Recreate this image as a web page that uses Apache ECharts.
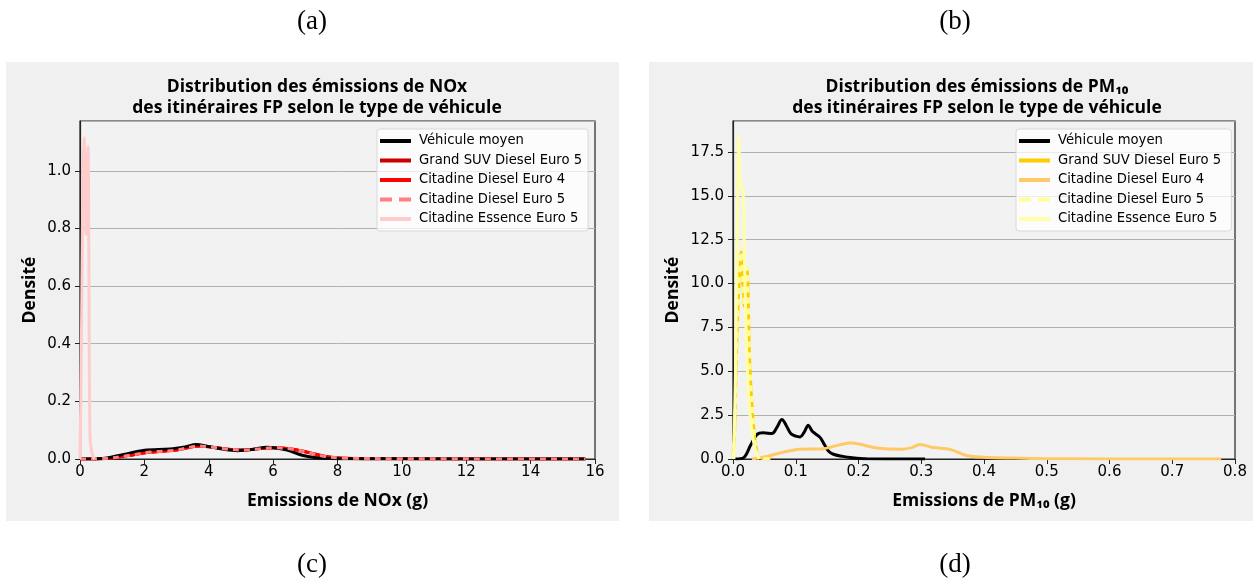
<!DOCTYPE html>
<html>
<head>
<meta charset="utf-8">
<script src="https://cdn.jsdelivr.net/npm/echarts@6/dist/echarts.min.js"></script>
<style>
html,body{margin:0;padding:0;background:#fff;}
#c{width:1259px;height:580px;}
</style>
</head>
<body>
<div id="c"></div>
<script>
// ---------- DATA ----------
const seriesNames = ['Véhicule moyen','Grand SUV Diesel Euro 5','Citadine Diesel Euro 4','Citadine Diesel Euro 5','Citadine Essence Euro 5'];
const panelLabels = ['(a)','(b)','(c)','(d)'];
const noxTicks = [0,2,4,6,8,10,12,14,16];
const pmTicks = [0,0.1,0.2,0.3,0.4,0.5,0.6,0.7,0.8];

// NOx (left) — [x (g), density]
const noxMoyen = [[0,0],[0.7,0.002],[1.35,0.016],[2.0,0.030],[2.8,0.035],[3.3,0.043],[3.6,0.050],[4.0,0.043],[4.5,0.033],[4.9,0.029],[5.4,0.034],[5.8,0.041],[6.4,0.032],[6.9,0.013],[7.35,0.004],[8.0,0.001],[10,0.0005],[15.7,0]];
const noxSuv = [[0,0],[0.8,0.002],[1.5,0.012],[2.2,0.024],[3.0,0.031],[3.7,0.045],[4.1,0.041],[4.6,0.034],[5.1,0.031],[5.6,0.036],[6.0,0.039],[6.6,0.034],[7.1,0.023],[7.6,0.010],[8.2,0.003],[10,0.001],[15.7,0]];
const noxCitD4 = [[0,0],[0.8,0.002],[1.5,0.012],[2.2,0.024],[3.0,0.031],[3.7,0.045],[4.1,0.041],[4.6,0.034],[5.1,0.031],[5.6,0.036],[6.0,0.039],[6.6,0.034],[7.1,0.022],[7.6,0.009],[8.2,0.003],[10,0.001],[15.7,0]];
const noxCitD5 = [[0,0],[0.8,0.002],[1.5,0.012],[2.2,0.024],[3.0,0.031],[3.7,0.045],[4.1,0.041],[4.6,0.034],[5.1,0.031],[5.6,0.036],[6.0,0.039],[6.6,0.034],[7.1,0.022],[7.6,0.009],[8.2,0.003],[10,0.001],[15.7,0]];
const noxCitE5 = [[0.0,0],[0.04,0.35],[0.09,0.97],[0.124,1.115],[0.16,0.98],[0.19,0.78],[0.22,1.0],[0.25,1.085],[0.275,0.7],[0.31,0.08],[0.37,0.02],[0.45,0]];

// PM10 (right) — [x (g), density]
const pmMoyen = [[0.004,0],[0.017,0.08],[0.028,0.78],[0.038,1.39],[0.048,1.5],[0.062,1.45],[0.070,1.8],[0.078,2.25],[0.085,1.9],[0.092,1.45],[0.100,1.3],[0.107,1.26],[0.113,1.5],[0.120,1.92],[0.126,1.6],[0.131,1.45],[0.139,1.22],[0.146,0.8],[0.152,0.46],[0.160,0.27],[0.175,0.15],[0.187,0.08],[0.213,0.01],[0.306,0]];
const pmSuv = [[0.0,0],[0.003,2.0],[0.0053,5.75],[0.0084,9.0],[0.011,10.8],[0.0132,11.8],[0.016,10.0],[0.018,8.7],[0.020,9.8],[0.0223,10.9],[0.024,9.5],[0.0265,5.7],[0.0318,2.3],[0.038,0.4],[0.045,0.05],[0.060,0]];
const pmCitD4 = [[0.030,0],[0.054,0.15],[0.081,0.4],[0.107,0.55],[0.144,0.59],[0.171,0.82],[0.187,0.91],[0.203,0.84],[0.229,0.63],[0.266,0.55],[0.285,0.65],[0.298,0.82],[0.319,0.65],[0.346,0.55],[0.372,0.2],[0.399,0.1],[0.45,0.05],[0.5,0.02],[0.6,0.005],[0.778,0]];
const pmCitD5 = [[0.0,0],[0.003,2.0],[0.0053,5.75],[0.0084,9.0],[0.011,10.8],[0.0132,11.8],[0.016,10.0],[0.018,8.7],[0.020,9.8],[0.0223,10.9],[0.024,9.5],[0.0265,5.7],[0.0318,2.3],[0.038,0.4],[0.045,0.05],[0.060,0]];
const pmCitE5 = [[0.001,0],[0.004,5],[0.007,14],[0.0095,18.4],[0.011,16.0],[0.013,15.5],[0.016,15.4],[0.018,12],[0.021,7],[0.025,3.5],[0.029,1.9],[0.035,0.6],[0.042,0]];

const noxColors = ['#000000','#cc0000','#ff0000','#ff8080','#ffcccc'];
const pmColors = ['#000000','#ffcc00','#ffc966','#ffff99','#ffffaa'];
const dashedIndex = 3;

// ---------- CHART ----------
const chart = echarts.init(document.getElementById('c'));
const TFONT = '"Open Sans", Lato, sans-serif';
const LFONT = '"DejaVu Sans", sans-serif';
const SOLID_ICON = 'path://M0,0h31v4h-31z';
const DASH_ICON = 'path://M0,0h12v4h-12z M19,0h12v4h-12z';

const leftNames = seriesNames.slice();
const rightNames = seriesNames.map(n => n + ' ');

function mk(name, data, color, idx, dashed, z) {
  return {
    name: name, type: 'line', data: data, xAxisIndex: idx, yAxisIndex: idx,
    smooth: 0.35, showSymbol: false, symbol: 'none', z: z,
    lineStyle: {color: color, width: 3, type: dashed ? [6, 5] : 'solid'},
    itemStyle: {color: color},
    emphasis: {disabled: true}
  };
}

function xAxis(idx, max, interval, name, dec) {
  return {
    type: 'value', gridIndex: idx, min: 0, max: max, interval: interval,
    name: name, nameLocation: 'middle', nameGap: 33,
    nameTextStyle: {fontFamily: TFONT, fontWeight: 'bold', fontSize: 17.5, color: '#000'},
    axisLine: {show: true, lineStyle: {color: '#222', width: 1.2}},
    axisTick: {show: true, inside: false, length: 5, lineStyle: {color: '#222'}},
    axisLabel: {color: '#000', fontFamily: LFONT, fontSize: 15, margin: 6,
      formatter: v => dec ? v.toFixed(1) : String(v)},
    splitLine: {show: false}
  };
}
function yAxis(idx, max, interval, gap) {
  return {
    type: 'value', gridIndex: idx, min: 0, max: max, interval: interval,
    name: 'Densité', nameLocation: 'middle', nameRotate: 90, nameGap: gap,
    nameTextStyle: {fontFamily: TFONT, fontWeight: 'bold', fontSize: 17.5, color: '#000'},
    axisLine: {show: true, lineStyle: {color: '#222', width: 1.2}},
    axisTick: {show: true, inside: false, length: 5, lineStyle: {color: '#222'}},
    axisLabel: {color: '#000', fontFamily: LFONT, fontSize: 15, margin: 9, showMaxLabel: false,
      formatter: v => v.toFixed(1)},
    splitLine: {show: true, lineStyle: {color: '#b0b0b0', width: 1}}
  };
}

function legendData(names) {
  return names.map((n, i) => ({name: n, icon: i === dashedIndex ? DASH_ICON : SOLID_ICON}));
}

const legendCommon = {
  orient: 'vertical', top: 129, itemWidth: 31, itemHeight: 4, itemGap: 5.5,
  padding: [5, 6, 5, 3],
  backgroundColor: 'rgba(255,255,255,0.75)', borderColor: '#d8d8d8', borderWidth: 1, borderRadius: 3,
  textStyle: {fontFamily: LFONT, fontSize: 13.2, lineHeight: 14, color: '#000', padding: [0, 0, 0, 3]},
  selectedMode: false
};

function panelLabel(i, x, y) {
  return {type: 'text', x: x, y: y, style: {text: panelLabels[i], font: '27px "Liberation Serif"', fill: '#000', align: 'center', verticalAlign: 'middle'}};
}

const option = {
  animation: false,
  backgroundColor: '#ffffff',
  graphic: [
    {type: 'rect', z: -10, shape: {x: 6, y: 62, width: 613, height: 459}, style: {fill: '#f0f0f0'}},
    {type: 'rect', z: -10, shape: {x: 649, y: 62, width: 604, height: 459}, style: {fill: '#f0f0f0'}},
    panelLabel(0, 312, 22), panelLabel(1, 955, 22), panelLabel(2, 312, 565), panelLabel(3, 955, 565)
  ],
  title: [
    {text: 'Distribution des émissions de NOx\ndes itinéraires FP selon le type de véhicule',
     left: 317, top: 77, textAlign: 'center', padding: 0,
     textStyle: {fontFamily: TFONT, fontWeight: 'bold', fontSize: 17.5, color: '#000', lineHeight: 21}},
    {text: 'Distribution des émissions de PM₁₀\ndes itinéraires FP selon le type de véhicule',
     left: 977, top: 77, textAlign: 'center', padding: 0,
     textStyle: {fontFamily: TFONT, fontWeight: 'bold', fontSize: 17.5, color: '#000', lineHeight: 21}}
  ],
  grid: [
    {left: 80, top: 121, width: 515, height: 338, show: true, backgroundColor: '#f2f2f2', borderColor: '#222', borderWidth: 1.2},
    {left: 733, top: 121, width: 502, height: 338, show: true, backgroundColor: '#f2f2f2', borderColor: '#222', borderWidth: 1.2}
  ],
  xAxis: [
    xAxis(0, noxTicks[noxTicks.length - 1], noxTicks[1] - noxTicks[0], 'Emissions de NOx (g)', false),
    xAxis(1, pmTicks[pmTicks.length - 1], 0.1, 'Emissions de PM₁₀ (g)', true)
  ],
  yAxis: [
    yAxis(0, 1.173, 0.2, 41),
    yAxis(1, 19.27, 2.5, 51)
  ],
  legend: [
    Object.assign({}, legendCommon, {left: 377, data: legendData(leftNames)}),
    Object.assign({}, legendCommon, {left: 1016, data: legendData(rightNames)})
  ],
  series: [
    mk(leftNames[0], noxMoyen, noxColors[0], 0, false, 4),
    mk(leftNames[1], noxSuv, noxColors[1], 0, false, 2),
    mk(leftNames[2], noxCitD4, noxColors[2], 0, false, 3),
    mk(leftNames[3], noxCitD5, noxColors[3], 0, true, 5),
    mk(leftNames[4], noxCitE5, noxColors[4], 0, false, 6),
    mk(rightNames[0], pmMoyen, pmColors[0], 1, false, 2),
    mk(rightNames[1], pmSuv, pmColors[1], 1, false, 3),
    mk(rightNames[2], pmCitD4, pmColors[2], 1, false, 4),
    mk(rightNames[3], pmCitD5, pmColors[3], 1, true, 5),
    mk(rightNames[4], pmCitE5, pmColors[4], 1, false, 6)
  ]
};
chart.setOption(option);
</script>
</body>
</html>
